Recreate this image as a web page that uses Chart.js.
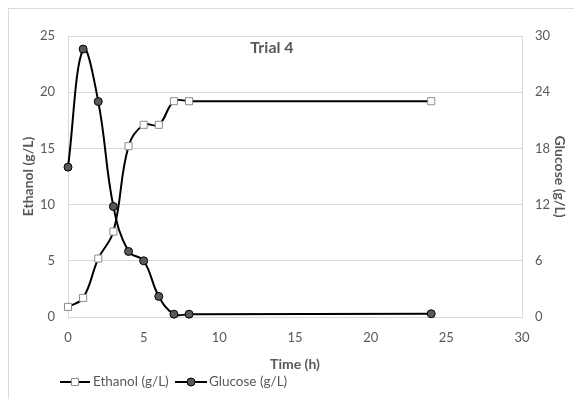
<!DOCTYPE html>
<html>
<head>
<meta charset="utf-8">
<script src="https://cdn.jsdelivr.net/npm/chart.js@4.4.1/dist/chart.umd.min.js"></script>
<style>
html,body{margin:0;padding:0;background:#fff;}
#wrap{width:574px;height:399px;position:relative;}
</style>
</head>
<body>
<div id="wrap"><canvas id="c" width="574" height="399"></canvas></div>
<script>
const hours = [0, 1, 2, 3, 4, 5, 6, 7, 8, 24];
const ethanol = [0.9, 1.7, 5.2, 7.6, 15.2, 17.1, 17.1, 19.2, 19.2, 19.2];
const glucose = [16.0, 28.6, 23.0, 11.8, 7.0, 6.0, 2.2, 0.3, 0.3, 0.35];
const xTicks = {min: 0, max: 30, step: 5};
const leftTicks = {min: 0, max: 25, step: 5};
const rightTicks = {min: 0, max: 30, step: 6};
const titleText = 'Trial 4';
const labels = {x: 'Time (h)', left: 'Ethanol (g/L)', right: 'Glucose (g/L)'};
const seriesNames = ['Ethanol (g/L)', 'Glucose (g/L)'];

const FONT = 'Lato, "Open Sans", sans-serif';
const GREY = '#595959';
const GRID = '#d9d9d9';

const frame = {
  id: 'frame',
  beforeDraw(chart) {
    const ctx = chart.ctx;
    ctx.save();
    ctx.strokeStyle = GRID;
    ctx.lineWidth = 1;
    ctx.strokeRect(8.5, 8.5, 700, 500);
    ctx.restore();
  },
  afterDraw(chart) {
    const ctx = chart.ctx;
    ctx.save();
    ctx.fillStyle = GREY;
    ctx.font = 'bold 16px ' + FONT;
    ctx.textAlign = 'center';
    ctx.textBaseline = 'middle';
    ctx.fillText(titleText, 272, 48);
    ctx.font = '13.5px ' + FONT;
    ctx.textAlign = 'left';
    const items = [{x0: 60, x1: 90, tx: 93}, {x0: 175, x1: 207, tx: 209}];
    const y = 382;
    chart.data.datasets.forEach((ds, i) => {
      const it = items[i];
      ctx.strokeStyle = ds.borderColor;
      ctx.lineWidth = ds.borderWidth;
      ctx.beginPath();
      ctx.moveTo(it.x0, y);
      ctx.lineTo(it.x1, y);
      ctx.stroke();
      ctx.fillStyle = ds.pointBackgroundColor;
      ctx.strokeStyle = ds.pointBorderColor;
      ctx.lineWidth = ds.pointBorderWidth;
      Chart.helpers.drawPoint(ctx, {pointStyle: ds.pointStyle, radius: ds.pointRadius, borderWidth: ds.pointBorderWidth, rotation: 0}, (it.x0 + it.x1) / 2, y);
      ctx.fillStyle = GREY;
      ctx.fillText(ds.label, it.tx, y);
    });
    ctx.restore();
  }
};

const tickFont = {family: FONT, size: 13};
const axisTitleFont = {family: FONT, size: 14, weight: 'bold'};

new Chart(document.getElementById('c'), {
  type: 'line',
  data: {
    datasets: [
      {
        label: seriesNames[0],
        data: hours.map((h, i) => ({x: h, y: ethanol[i]})),
        yAxisID: 'y',
        borderColor: '#000',
        borderWidth: 2,
        tension: 0.4,
        pointStyle: 'rect',
        pointRadius: 5,
        pointBackgroundColor: '#fff',
        pointBorderColor: '#8c8c8c',
        pointBorderWidth: 1,
        clip: 10
      },
      {
        label: seriesNames[1],
        data: hours.map((h, i) => ({x: h, y: glucose[i]})),
        yAxisID: 'y1',
        borderColor: '#000',
        borderWidth: 2,
        tension: 0.4,
        pointStyle: 'circle',
        pointRadius: 4,
        pointBackgroundColor: '#595959',
        pointBorderColor: '#000',
        pointBorderWidth: 1,
        clip: 10
      }
    ]
  },
  options: {
    responsive: false,
    animation: false,
    events: [],
    layout: {padding: {left: 16, right: 2, top: 36, bottom: 26}},
    plugins: {legend: {display: false}, title: {display: false}, tooltip: {enabled: false}},
    scales: {
      x: {
        type: 'linear',
        min: xTicks.min, max: xTicks.max,
        ticks: {stepSize: xTicks.step, color: GREY, font: tickFont, padding: 13},
        grid: {display: true, drawOnChartArea: false, drawTicks: false},
        border: {display: true, color: GRID},
        title: {display: true, text: labels.x, color: GREY, font: axisTitleFont, padding: {top: 0, bottom: 0}},
        afterFit(s) { s.height = 56; }
      },
      y: {
        position: 'left',
        min: leftTicks.min, max: leftTicks.max,
        ticks: {stepSize: leftTicks.step, color: GREY, font: tickFont, padding: 13},
        grid: {color: GRID, drawTicks: false},
        border: {display: true, color: GRID},
        title: {display: true, text: labels.left, color: GREY, font: axisTitleFont, padding: 4},
        afterFit(s) { s.width = 52; }
      },
      y1: {
        position: 'right',
        min: rightTicks.min, max: rightTicks.max,
        ticks: {stepSize: rightTicks.step, color: GREY, font: tickFont, padding: 13},
        grid: {drawOnChartArea: false, drawTicks: false},
        border: {display: true, color: GRID},
        title: {display: true, text: labels.right, color: GREY, font: axisTitleFont, padding: 4},
        afterFit(s) { s.width = 50; }
      }
    }
  },
  plugins: [frame]
});
</script>
</body>
</html>
